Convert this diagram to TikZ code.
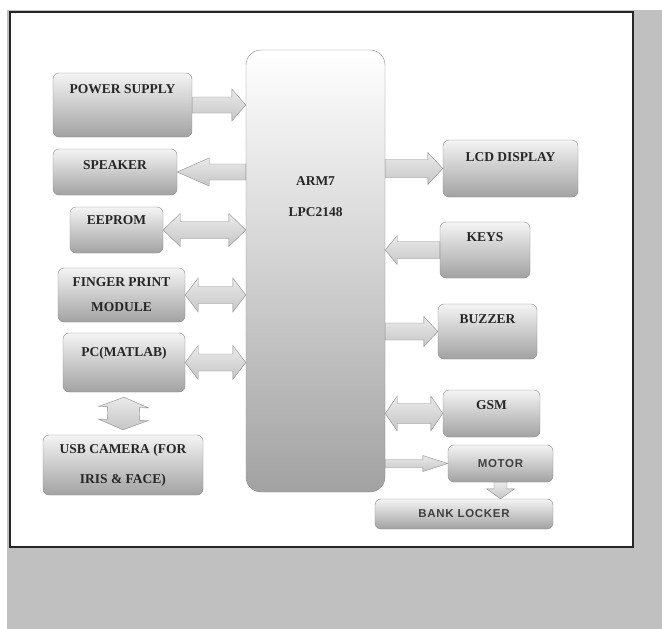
\documentclass[tikz,border=0pt]{standalone}
\usepackage{fontspec}
\setmainfont{Liberation Serif}
\setsansfont{Liberation Sans}
\newfontfamily\lockerfont[LetterSpace=6]{Liberation Sans}
\usetikzlibrary{calc}

\definecolor{pagegray}{HTML}{C0C0C0}
\definecolor{framecol}{HTML}{262626}
\definecolor{boxline}{HTML}{8A8A8A}
\definecolor{boxtop}{HTML}{F4F4F4}
\definecolor{boxbot}{HTML}{A2A2A2}
\definecolor{arrowline}{HTML}{8C8C8C}
\definecolor{arrowtop}{HTML}{EAEAEA}
\definecolor{arrowbot}{HTML}{C6C6C6}

\tikzset{
	box/.style={draw=boxline, rounded corners=6pt, top color=boxtop, bottom color=boxbot,
		text=black!85, align=center, font=\fontsize{13.5}{25}\selectfont\bfseries},
	toptext/.style={text height=9pt, text depth=#1},
	smallbox/.style={box, text=black!75, font=\lockerfont\fontsize{11.5}{14}\selectfont\bfseries},
	arrow size/.code n args={3}{\def\sw{#1}\def\hw{#2}\def\hl{#3}},
	arrow size={8}{16}{14},
	along/.style={shift={(\p1)}, rotate=\n1},
	% Blockpfeil mit einer Spitze
	fat arrow/.style={draw=arrowline, top color=arrowtop, bottom color=arrowbot, to path={
		let \p1=(\tikztostart), \p2=(\tikztotarget),
		\n1={atan2(\y2-\y1,\x2-\x1)}, \n2={veclen(\x2-\x1,\y2-\y1)} in
		([along]0,\sw) -- ([along]{\n2-\hl},\sw) -- ([along]{\n2-\hl},\hw) -- ([along]\n2,0)
		-- ([along]{\n2-\hl},-\hw) -- ([along]{\n2-\hl},-\sw) -- ([along]0,-\sw) -- cycle}},
	% Blockpfeil mit zwei Spitzen
	fat darrow/.style={draw=arrowline, top color=arrowtop, bottom color=arrowbot, to path={
		let \p1=(\tikztostart), \p2=(\tikztotarget),
		\n1={atan2(\y2-\y1,\x2-\x1)}, \n2={veclen(\x2-\x1,\y2-\y1)} in
		([along]0,0) -- ([along]\hl,\hw) -- ([along]\hl,\sw) -- ([along]{\n2-\hl},\sw)
		-- ([along]{\n2-\hl},\hw) -- ([along]\n2,0) -- ([along]{\n2-\hl},-\hw)
		-- ([along]{\n2-\hl},-\sw) -- ([along]\hl,-\sw) -- ([along]\hl,-\hw) -- cycle}}
}

\begin{document}
\begin{tikzpicture}[x=1pt, y=-1pt]
	\useasboundingbox (0,0) rectangle (662,629);
	
	% Hintergrund und Rahmen
	\fill[white] (0,0) rectangle (662,629);
	\fill[pagegray] (7,10) rectangle (662,629);
	\draw[line width=2pt, draw=framecol, fill=white] (10,12) rectangle (633,547);
	
	% Controller
	\node[box, rounded corners=15pt, top color=white, minimum width=139pt, minimum height=442pt,
		label={[name=armtext, anchor=north, yshift=-123pt, align=center, text=black!85,
			font=\fontsize{13.5}{31}\selectfont\bfseries]north:ARM7\\LPC2148}] (arm) at (315.5,271) {};
	
	% linke Seite
	\node[box, toptext=32pt, minimum width=139pt, minimum height=64pt] (psu) at (122.5,105) {POWER SUPPLY};
	\node[box, toptext=14pt, minimum width=124pt, minimum height=46pt] (spk) at (115,172) {SPEAKER};
	\node[box, toptext=20pt, minimum width=93pt, minimum height=46pt] (eep) at (116.5,230) {EEPROM};
	\node[box, minimum width=127pt, minimum height=54pt] (fpm) at (121.5,295) {FINGER PRINT\\MODULE};
	\node[box, toptext=21pt, minimum width=122pt, minimum height=59pt] (pc) at (124,362.5) {PC(MATLAB)};
	\node[box, font=\fontsize{13.5}{30}\selectfont\bfseries, minimum width=160pt, minimum height=60pt]
		(usb) at (123,465) {USB CAMERA (FOR\\IRIS \& FACE)};
	
	% rechte Seite
	\node[box, toptext=23pt, minimum width=135pt, minimum height=57pt] (lcd) at (510.5,168.5) {LCD DISPLAY};
	\node[box, toptext=26pt, minimum width=90pt, minimum height=56pt] (keys) at (485,250) {KEYS};
	\node[box, toptext=25pt, minimum width=99pt, minimum height=55pt] (buz) at (487.5,331.5) {BUZZER};
	\node[box, toptext=17pt, minimum width=97pt, minimum height=47pt] (gsm) at (491.5,413.5) {GSM};
	\node[smallbox, minimum width=105pt, minimum height=37pt] (mot) at (500.5,463.5) {MOTOR};
	\node[smallbox, minimum width=178pt, minimum height=30pt] (bl) at (464,514) {BANK LOCKER};
	
	% Pfeile links
	\draw[fat arrow] (psu.east) to (arm.west |- psu.east);
	\draw[fat arrow, arrow size={8}{14}{32}] (arm.west |- spk.east) to (spk.east);
	\draw[fat darrow, arrow size={8.5}{16.5}{17}] (eep.east) to (arm.west |- eep.east);
	\draw[fat darrow, arrow size={8.5}{17}{13}] (fpm.east) to (arm.west |- fpm.east);
	\draw[fat darrow, arrow size={8.5}{17}{13}] (pc.east) to (arm.west |- pc.east);
	\draw[fat darrow, arrow size={16}{25}{10}] ([yshift=-5pt]pc.south) to ([yshift=5pt]usb.north);
	
	% Pfeile rechts
	\draw[fat arrow, arrow size={9}{16}{15}] (arm.east |- lcd.west) to (lcd.west);
	\draw[fat arrow, arrow size={8.5}{14.5}{12}] (keys.west) to (arm.east |- keys.west);
	\draw[fat arrow, arrow size={8.5}{15}{14}] (arm.east |- buz.west) to (buz.west);
	\draw[fat darrow, arrow size={10}{17.5}{12}] (arm.east |- gsm.west) to (gsm.west);
	\draw[fat arrow, arrow size={4}{8}{25}] (arm.east |- mot.west) to (mot.west);
	\draw[fat arrow, arrow size={6.5}{14}{10}] (mot.south) to (mot.south |- bl.north);
\end{tikzpicture}
\end{document}
